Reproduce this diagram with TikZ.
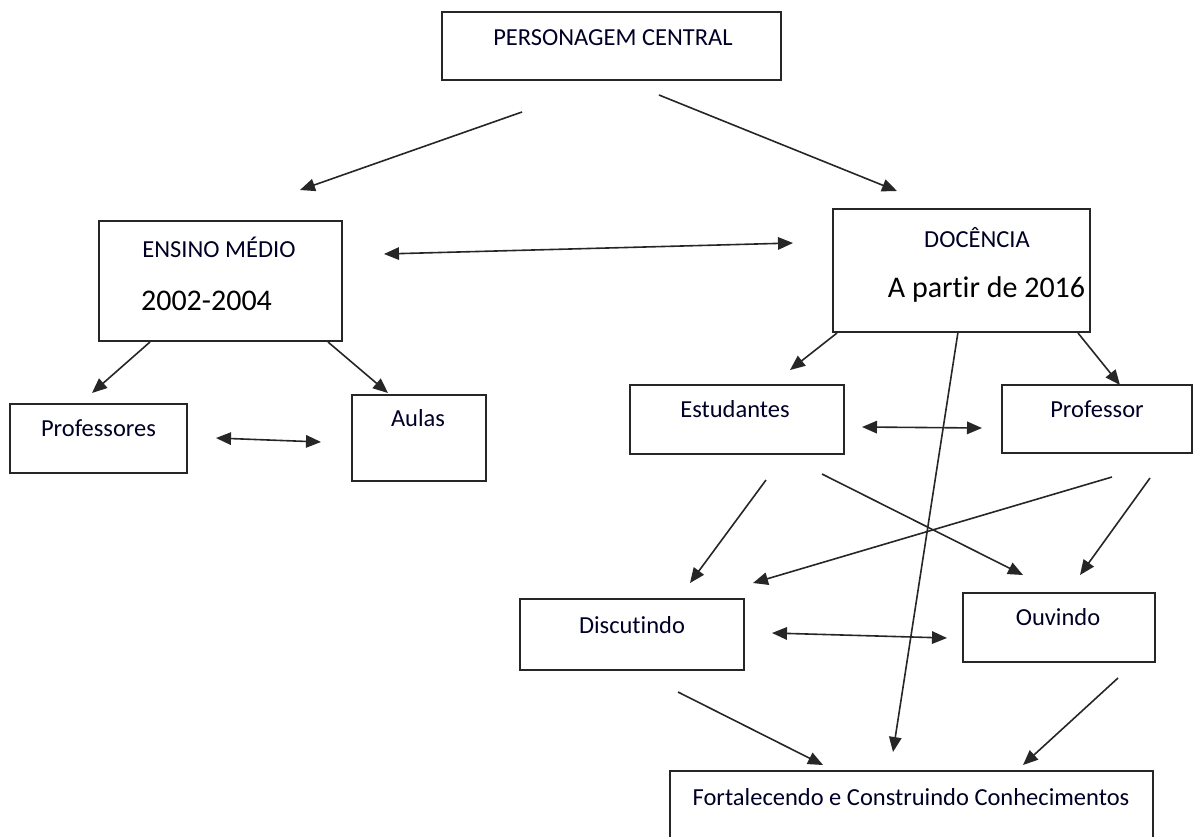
\documentclass[tikz,border=0pt]{standalone}
\usepackage{fontspec}
\setmainfont[Ligatures=CommonOff]{Carlito}
\usetikzlibrary{arrows.meta}
\tikzset{
  x=1pt, y=-1pt,
  box/.style={draw=black!85, line width=1.5pt, inner sep=0pt, rectangle},
  lbl/.style={inner sep=0pt, font=\fontsize{24.5}{28}\selectfont, text=black!85!blue},
  big/.style={inner sep=0pt, font=\fontsize{30}{34}\selectfont, text=black},
  tip/.tip={Triangle[length=15pt,width=12.5pt]},
  conn/.style={line width=1.6pt, draw=black!85, -tip},
  dconn/.style={line width=1.6pt, draw=black!85, tip-tip}
}
\begin{document}
\begin{tikzpicture}
\useasboundingbox (0,0) rectangle (1194,836);
\begin{scope}
\clip (0,0) rectangle (1194,836);
% boxes
\node[box, minimum width=339pt, minimum height=68pt] (top) at (611.5,46) {};
\node[box, minimum width=243pt, minimum height=120pt] (em) at (220.5,281) {};
\node[box, minimum width=257pt, minimum height=123pt] (doc) at (961.5,270.5) {};
\node[box, minimum width=177pt, minimum height=69pt] (profs) at (98.5,438.5) {};
\node[box, minimum width=134pt, minimum height=86pt] (aulas) at (419,438) {};
\node[box, minimum width=214pt, minimum height=69pt] (est) at (737,419.5) {};
\node[box, minimum width=190pt, minimum height=68pt] (prof) at (1097,419) {};
\node[box, minimum width=224pt, minimum height=71pt] (disc) at (632,634.5) {};
\node[box, minimum width=192pt, minimum height=69pt] (ouv) at (1059,627.5) {};
\node[box, minimum width=483pt, minimum height=90pt] (fort) at (911.5,816) {};
\end{scope}
% texts
\node[lbl] (ttop) at (613,38) {PERSONAGEM CENTRAL};
\node[lbl] (tem) at (219,247) {ENSINO MÉDIO};
\node[big] (yem) at (206.5,301) {2002-2004};
\node[lbl] (tdoc) at (977,238) {DOCÊNCIA};
\node[big] (ydoc) at (986.5,289) {A partir de 2016};
\node[lbl] (tprofs) at (98.5,428) {Professores};
\node[lbl] (taulas) at (418,418) {Aulas};
\node[lbl] (test) at (735,409) {Estudantes};
\node[lbl] (tprof) at (1097,409) {Professor};
\node[lbl] (tdisc) at (632,625) {Discutindo};
\node[lbl] (touv) at (1058,617) {Ouvindo};
\node[lbl] (tfort) at (911,797) {Fortalecendo e Construindo Conhecimentos};
% connector end points
\coordinate (a1s) at (522,112);  \coordinate (a1e) at (300,190);
\coordinate (a2s) at (659,95);   \coordinate (a2e) at (897,191);
\coordinate (a3s) at (384,254);  \coordinate (a3e) at (793,243);
\coordinate (a4s) at (150,342);  \coordinate (a4e) at (92,393);
\coordinate (a5s) at (328,342);  \coordinate (a5e) at (388,393);
\coordinate (a6s) at (216,438);  \coordinate (a6e) at (321,442);
\coordinate (a7s) at (837,333);  \coordinate (a7e) at (790,370);
\coordinate (a8s) at (1078,333); \coordinate (a8e) at (1120,385);
\coordinate (a9s) at (958,332);  \coordinate (a9e) at (893,752);
\coordinate (a10s) at (862,427); \coordinate (a10e) at (982,428);
\coordinate (a11s) at (766,480); \coordinate (a11e) at (690,583);
\coordinate (a12s) at (822,474); \coordinate (a12e) at (1023,575);
\coordinate (a13s) at (1112,477);\coordinate (a13e) at (753,583);
\coordinate (a14s) at (1150,478);\coordinate (a14e) at (1080,575);
\coordinate (a15s) at (772,633); \coordinate (a15e) at (947,638);
\coordinate (a16s) at (678,692); \coordinate (a16e) at (823,765);
\coordinate (a17s) at (1118,678);\coordinate (a17e) at (1023,765);
% connectors
\draw[conn] (a1s) -- (a1e);
\draw[conn] (a2s) -- (a2e);
\draw[dconn] (a3s) -- (a3e);
\draw[conn] (a4s) -- (a4e);
\draw[conn] (a5s) -- (a5e);
\draw[dconn] (a6s) -- (a6e);
\draw[conn] (a7s) -- (a7e);
\draw[conn] (a8s) -- (a8e);
\draw[conn] (a9s) -- (a9e);
\draw[dconn] (a10s) -- (a10e);
\draw[conn] (a11s) -- (a11e);
\draw[conn] (a12s) -- (a12e);
\draw[conn] (a13s) -- (a13e);
\draw[conn] (a14s) -- (a14e);
\draw[dconn] (a15s) -- (a15e);
\draw[conn] (a16s) -- (a16e);
\draw[conn] (a17s) -- (a17e);
\end{tikzpicture}
\end{document}
